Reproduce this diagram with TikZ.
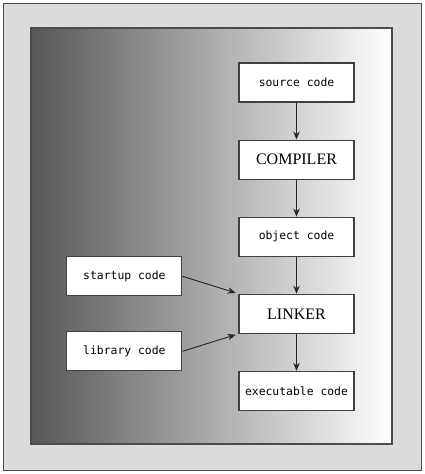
\documentclass[tikz,border=0pt]{standalone}
\usepackage{fontspec}
\setmainfont{Liberation Serif}
\setmonofont{DejaVu Sans Mono}
\usetikzlibrary{arrows.meta, positioning}

\begin{document}
\begin{tikzpicture}[
                x=1pt, y=-1pt,
                node distance=37pt,
                codebox/.style={draw=black!75, line width=1.1pt, fill=white, minimum width=115pt, minimum height=39pt, align=center, inner sep=0pt, font=\ttfamily\fontsize{11.4}{13}\selectfont},
                toolbox/.style={codebox, font=\fontsize{16}{18}\selectfont},
                arr/.style={-{Stealth[length=8pt, width=6.5pt]}, line width=0.9pt, black!85}
            ]
                \useasboundingbox (0,0) rectangle (425,474);
                % frame and shaded panel
                \draw[black!70, fill=black!14, line width=1pt] (3.5,3.5) rectangle (421.5,470.5);
                \shade[left color=black!66, right color=white] (31,28) rectangle (392,444);
                \draw[black!70, line width=1.5pt] (31,28) rectangle (392,444);

                \node[codebox] (source) at (296.5,82.5) {source code};
                \node[toolbox, below=of source] (compiler) {COMPILER};
                \node[codebox, below=of compiler] (object) {object code};
                \node[toolbox, below=of object] (linker) {LINKER};
                \node[codebox, below=of linker] (exec) {executable code};
                \node[codebox, left=56pt of linker, yshift=37.5pt] (startup) {startup code};
                \node[codebox, left=56pt of linker, yshift=-37.5pt] (library) {library code};

                \draw[arr] (source) -- (compiler);
                \draw[arr] (compiler) -- (object);
                \draw[arr] (object) -- (linker);
                \draw[arr] (linker) -- (exec);
                \draw[arr, shorten >=3pt] (startup.east) -- (linker.north west);
                \draw[arr, shorten >=3pt] (library.east) -- (linker.south west);
            \end{tikzpicture}
\end{document}
